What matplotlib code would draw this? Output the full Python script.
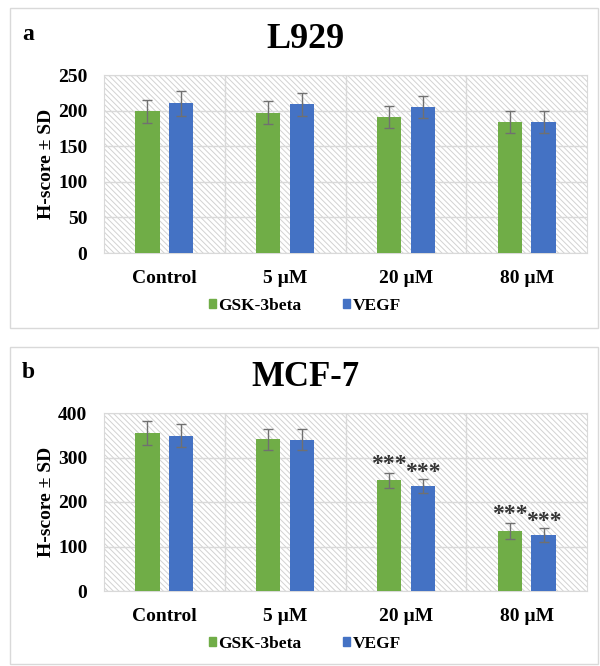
import matplotlib.pyplot as plt
import matplotlib.patches as mpatches
import numpy as np

plt.rcParams['font.family'] = ['Liberation Serif', 'DejaVu Serif']
plt.rcParams['font.weight'] = 'bold'
plt.rcParams['hatch.linewidth'] = 0.7
plt.rcParams['hatch.color'] = '#cfcfcf'

categories = ["Control", "5 \u00b5M", "20 \u00b5M", "80 \u00b5M"]
series = ["GSK-3beta", "VEGF"]
colors = ["#70AD47", "#4472C4"]

# panel a: L929
l929_gsk = [199, 197, 191, 184]
l929_gsk_sd = [16, 16, 16, 15]
l929_vegf = [210, 209, 205, 184]
l929_vegf_sd = [18, 16, 15, 16]

# panel b: MCF-7
mcf_gsk = [355, 341, 249, 135]
mcf_gsk_sd = [26, 24, 17, 18]
mcf_vegf = [349, 340, 236, 126]
mcf_vegf_sd = [26, 23, 15, 15]
mcf_stars_gsk = ["", "", "***", "***"]
mcf_stars_vegf = ["", "", "***", "***"]

W, H = 600, 666
fig = plt.figure(figsize=(6, 6.66), dpi=100)


def px(x0, y0, x1, y1):
    # pixel box (top-left origin) -> figure fraction rect
    return [x0 / W, 1 - y1 / H, (x1 - x0) / W, (y1 - y0) / H]


def panel(letter, title, title_size, box_y, plot_y, ymax, step, gsk, gsk_sd, vegf, vegf_sd,
          stars_g=None, stars_v=None):
    # panel frame
    fig.patches.append(mpatches.Rectangle((10 / W, 1 - box_y[1] / H), 588 / W,
                                          (box_y[1] - box_y[0]) / H,
                                          transform=fig.transFigure, fill=False,
                                          edgecolor="#d9d9d9", lw=1))
    fig.text(22 / W, 1 - (box_y[0] + 26) / H, letter, fontsize=17, fontweight="bold",
             ha="left", va="center")
    fig.text(305 / W, 1 - (box_y[0] + 31) / H, title, fontsize=title_size,
             fontweight="bold", ha="center", va="center")

    ax = fig.add_axes(px(104, plot_y[0], 587, plot_y[1]))
    ax.add_patch(mpatches.Rectangle((0, 0), 1, 1, transform=ax.transAxes,
                                    facecolor="white", hatch="\\\\\\\\\\\\",
                                    edgecolor="#d2d2d2", lw=0, zorder=0))
    x = np.arange(len(categories))
    w = 0.2
    off = 0.14
    err_kw = dict(ecolor="#707070", elinewidth=1, capsize=3.5, capthick=1)
    ax.bar(x - off, gsk, w, yerr=gsk_sd, color=colors[0], label=series[0],
           error_kw=err_kw, zorder=3)
    ax.bar(x + off, vegf, w, yerr=vegf_sd, color=colors[1], label=series[1],
           error_kw=err_kw, zorder=3)
    if stars_g:
        for i in range(len(x)):
            if stars_g[i]:
                ax.annotate(stars_g[i], (x[i] - off, gsk[i] + gsk_sd[i]),
                            xytext=(0, 6), textcoords="offset points",
                            ha="center", va="center", fontsize=17, color="#333333",
                            zorder=4)
            if stars_v[i]:
                ax.annotate(stars_v[i], (x[i] + off, vegf[i] + vegf_sd[i]),
                            xytext=(0, 5), textcoords="offset points",
                            ha="center", va="center", fontsize=17, color="#333333",
                            zorder=4)
    ax.set_xlim(-0.5, len(categories) - 0.5)
    ax.set_ylim(0, ymax)
    ax.set_yticks(np.arange(0, ymax + 1, step))
    ax.set_xticks(x)
    ax.set_xticklabels(categories, fontsize=14, fontweight="bold")
    ax.tick_params(axis="both", length=0, labelsize=14)
    ax.tick_params(axis="x", pad=12)
    ax.tick_params(axis="y", pad=12)
    for lab in ax.get_yticklabels():
        lab.set_fontweight("bold")
    ax.yaxis.grid(True, color="#d9d9d9", lw=1, zorder=1)
    for xv in np.arange(0.5, len(categories) - 0.5, 1):
        ax.axvline(xv, color="#d9d9d9", lw=1, zorder=1)
    for s in ax.spines.values():
        s.set_color("#d9d9d9")
    ax.set_axisbelow(True)
    ax.set_ylabel("H-score \u00b1 SD", fontsize=14, fontweight="bold", labelpad=2)

    handles = [mpatches.Patch(color=colors[0], label=series[0]),
               mpatches.Patch(color=colors[1], label=series[1])]
    fig.legend(handles=handles, loc="center", ncol=2, frameon=False,
               bbox_to_anchor=(305 / W, 1 - (plot_y[1] + 53) / H),
               prop=dict(size=12.5, weight="bold"), handlelength=0.4, handleheight=0.4,
               handletextpad=0.15, columnspacing=2.4)
    return ax


panel("a", "L929", 26, (8, 328), (75, 253), 250, 50,
      l929_gsk, l929_gsk_sd, l929_vegf, l929_vegf_sd)
panel("b", "MCF-7", 25, (347, 664), (413, 591), 400, 100,
      mcf_gsk, mcf_gsk_sd, mcf_vegf, mcf_vegf_sd, mcf_stars_gsk, mcf_stars_vegf)

fig.savefig("out.png", dpi=100)
